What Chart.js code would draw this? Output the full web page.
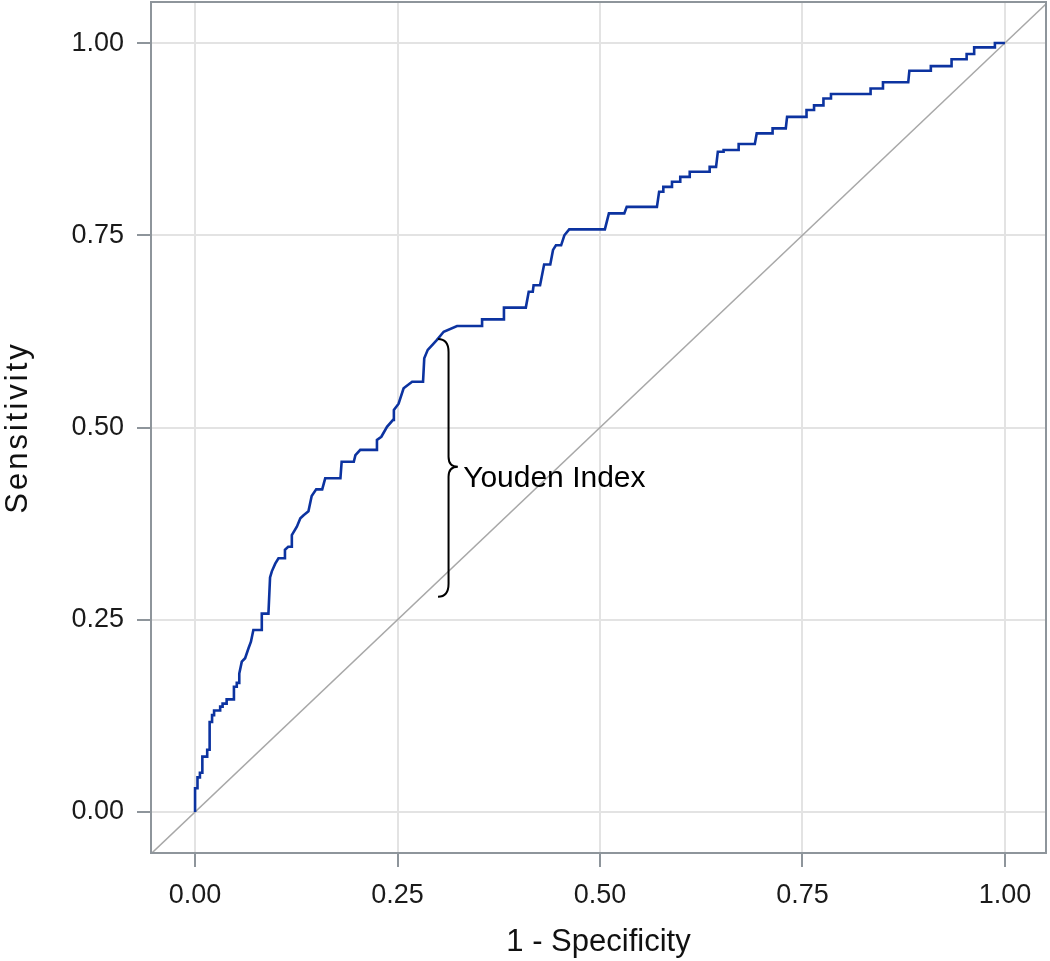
<!DOCTYPE html>
<html><head><meta charset="utf-8">
<script src="https://cdn.jsdelivr.net/npm/chart.js@4/dist/chart.umd.min.js"></script>
<style>html,body{margin:0;padding:0;background:#fff}canvas{display:block}</style>
</head><body>
<canvas id="c" width="1050" height="961"></canvas>
<script>
// ROC curve vertices (1 - specificity, sensitivity)
const fpr = [0,0,0.003,0.003,0.006,0.006,0.009,0.009,0.015,0.015,0.018,0.018,0.021,0.021,0.0235,0.0235,0.031,0.031,0.034,0.034,0.039,0.039,0.048,0.048,0.0515,0.0515,0.0546,0.0546,0.0577,0.0618,0.066,0.069,0.072,0.0824,0.0824,0.0906,0.0926,0.0948,0.099,0.103,0.111,0.111,0.115,0.1195,0.1195,0.1257,0.130,0.134,0.140,0.144,0.1496,0.157,0.1607,0.1795,0.181,0.196,0.198,0.204,0.2235,0.2246,0.230,0.237,0.2445,0.2455,0.2513,0.2575,0.268,0.2815,0.283,0.2873,0.2925,0.2987,0.307,0.3235,0.3544,0.3544,0.3814,0.3814,0.4084,0.412,0.417,0.418,0.426,0.431,0.4386,0.442,0.4456,0.452,0.456,0.462,0.506,0.511,0.530,0.533,0.5703,0.573,0.5782,0.5782,0.5889,0.5889,0.5991,0.5991,0.6108,0.6108,0.6354,0.6354,0.6433,0.6455,0.6526,0.6526,0.6712,0.6712,0.6912,0.6935,0.7131,0.7131,0.7294,0.731,0.755,0.755,0.7643,0.7643,0.7759,0.7759,0.7852,0.7852,0.8341,0.8341,0.8494,0.8494,0.8806,0.882,0.9085,0.9085,0.9341,0.9341,0.9527,0.9527,0.962,0.962,0.9876,0.9876,1.0];
const tpr = [0,0.031,0.031,0.045,0.045,0.051,0.051,0.072,0.072,0.081,0.081,0.117,0.117,0.126,0.126,0.132,0.132,0.137,0.137,0.141,0.141,0.1465,0.1465,0.163,0.163,0.168,0.168,0.180,0.1955,0.200,0.213,0.2215,0.2367,0.2367,0.258,0.258,0.305,0.313,0.323,0.33,0.33,0.341,0.345,0.345,0.36,0.371,0.382,0.386,0.391,0.411,0.4196,0.4196,0.434,0.434,0.4555,0.4555,0.464,0.471,0.471,0.484,0.488,0.501,0.51,0.523,0.531,0.551,0.5596,0.5596,0.590,0.601,0.607,0.614,0.6246,0.632,0.632,0.6406,0.6406,0.656,0.656,0.6766,0.6766,0.685,0.685,0.712,0.712,0.731,0.737,0.737,0.75,0.7577,0.7577,0.7785,0.7785,0.787,0.787,0.8066,0.8066,0.813,0.813,0.8197,0.8197,0.826,0.826,0.8326,0.8326,0.839,0.839,0.8587,0.8587,0.861,0.861,0.8687,0.8687,0.8825,0.8825,0.889,0.889,0.904,0.904,0.9129,0.9129,0.919,0.919,0.928,0.928,0.9337,0.9337,0.941,0.941,0.949,0.949,0.964,0.964,0.970,0.970,0.979,0.979,0.9857,0.9857,0.9944,0.9944,1.0,1.0];
// chance (reference) diagonal
const refX = [-0.06, 1.06];
const refY = [-0.06, 1.06];
// axis ticks and texts
const xTicks = [0, 0.25, 0.5, 0.75, 1];
const yTicks = [0, 0.25, 0.5, 0.75, 1];
const xTitle = '1 - Specificity';
const yTitle = 'Sensitivity';
// Youden index annotation (data coordinates)
const braceLabel = 'Youden Index';
const braceEndX = 0.300, braceLineX = 0.313, braceTipX = 0.3245;
const braceTop = 0.615, braceBottom = 0.28, braceMid = 0.449;
const labelX = 0.331, labelY = 0.433;

const FONT = "'Liberation Sans', Arial, sans-serif";

const annot = {
  id: 'annot',
  afterLayout(chart) {
    const s = chart.scales.y;
    if (s && !s._spaced) {
      const orig = s.drawTitle.bind(s);
      s.drawTitle = function () {
        this.ctx.save();
        this.ctx.letterSpacing = '3px';
        orig();
        this.ctx.restore();
      };
      s._spaced = true;
    }
  },
  afterDatasetsDraw(chart) {
    const {ctx, scales: {x, y}} = chart;
    const xe = x.getPixelForValue(braceEndX), xl = x.getPixelForValue(braceLineX), xt = x.getPixelForValue(braceTipX);
    const yt = y.getPixelForValue(braceTop), yb = y.getPixelForValue(braceBottom), ym = y.getPixelForValue(braceMid);
    const r = 13, rm = 10;
    ctx.save();
    ctx.strokeStyle = '#000';
    ctx.lineWidth = 2;
    ctx.beginPath();
    ctx.moveTo(xe, yt);
    ctx.quadraticCurveTo(xl, yt, xl, yt + r);
    ctx.lineTo(xl, ym - rm);
    ctx.quadraticCurveTo(xl, ym, xt, ym);
    ctx.quadraticCurveTo(xl, ym, xl, ym + rm);
    ctx.lineTo(xl, yb - r);
    ctx.quadraticCurveTo(xl, yb, xe, yb);
    ctx.stroke();
    ctx.fillStyle = '#000';
    ctx.font = '30px ' + FONT;
    ctx.textAlign = 'left';
    ctx.textBaseline = 'middle';
    ctx.fillText(braceLabel, x.getPixelForValue(labelX), y.getPixelForValue(labelY));
    ctx.restore();
  },
  afterDraw(chart) {
    const {ctx, chartArea: a} = chart;
    ctx.save();
    ctx.strokeStyle = '#8e959b';
    ctx.lineWidth = 2;
    ctx.strokeRect(a.left, a.top, a.right - a.left, a.bottom - a.top);
    ctx.restore();
  }
};

const tickFmt = v => Number(v).toFixed(2);
const noPad = s => { s.paddingTop = 0; s.paddingBottom = 0; s.paddingLeft = 0; s.paddingRight = 0; };

new Chart(document.getElementById('c'), {
  type: 'scatter',
  data: {
    datasets: [
      {
        data: fpr.map((v, i) => ({x: v, y: tpr[i]})),
        showLine: true, borderColor: '#0c33a0', borderWidth: 2.6,
        pointRadius: 0, tension: 0, order: 1
      },
      {
        data: refX.map((v, i) => ({x: v, y: refY[i]})),
        showLine: true, borderColor: '#a8a8a8', borderWidth: 1.5,
        pointRadius: 0, tension: 0, order: 2
      }
    ]
  },
  options: {
    responsive: false,
    animation: false,
    layout: {padding: {top: 2, right: 4, left: 0, bottom: 0}},
    plugins: {legend: {display: false}, tooltip: {enabled: false}},
    scales: {
      x: {
        type: 'linear', min: -0.0544, max: 1.0507,
        afterBuildTicks: s => { s.ticks = xTicks.map(v => ({value: v})); },
        afterFit: s => { s.height = 108; noPad(s); },
        grid: {color: '#e3e3e3', lineWidth: 2, tickColor: '#8e959b', tickLength: 14, tickWidth: 2},
        border: {display: false},
        ticks: {callback: tickFmt, font: {family: FONT, size: 27}, color: '#1a1a1a', padding: 12, maxRotation: 0},
        title: {display: true, text: xTitle, font: {family: FONT, size: 31}, color: '#111', padding: {top: 0, bottom: 0}}
      },
      y: {
        type: 'linear', min: -0.0533, max: 1.0534,
        afterBuildTicks: s => { s.ticks = yTicks.map(v => ({value: v})); },
        afterFit: s => { s.width = 151; noPad(s); },
        grid: {color: '#e3e3e3', lineWidth: 2, tickColor: '#8e959b', tickLength: 14, tickWidth: 2},
        border: {display: false},
        ticks: {callback: tickFmt, font: {family: FONT, size: 27}, color: '#1a1a1a', padding: 13},
        title: {display: true, text: yTitle, font: {family: FONT, size: 31}, color: '#111', padding: {top: 0, bottom: 0}}
      }
    }
  },
  plugins: [annot]
});
</script>
</body></html>
